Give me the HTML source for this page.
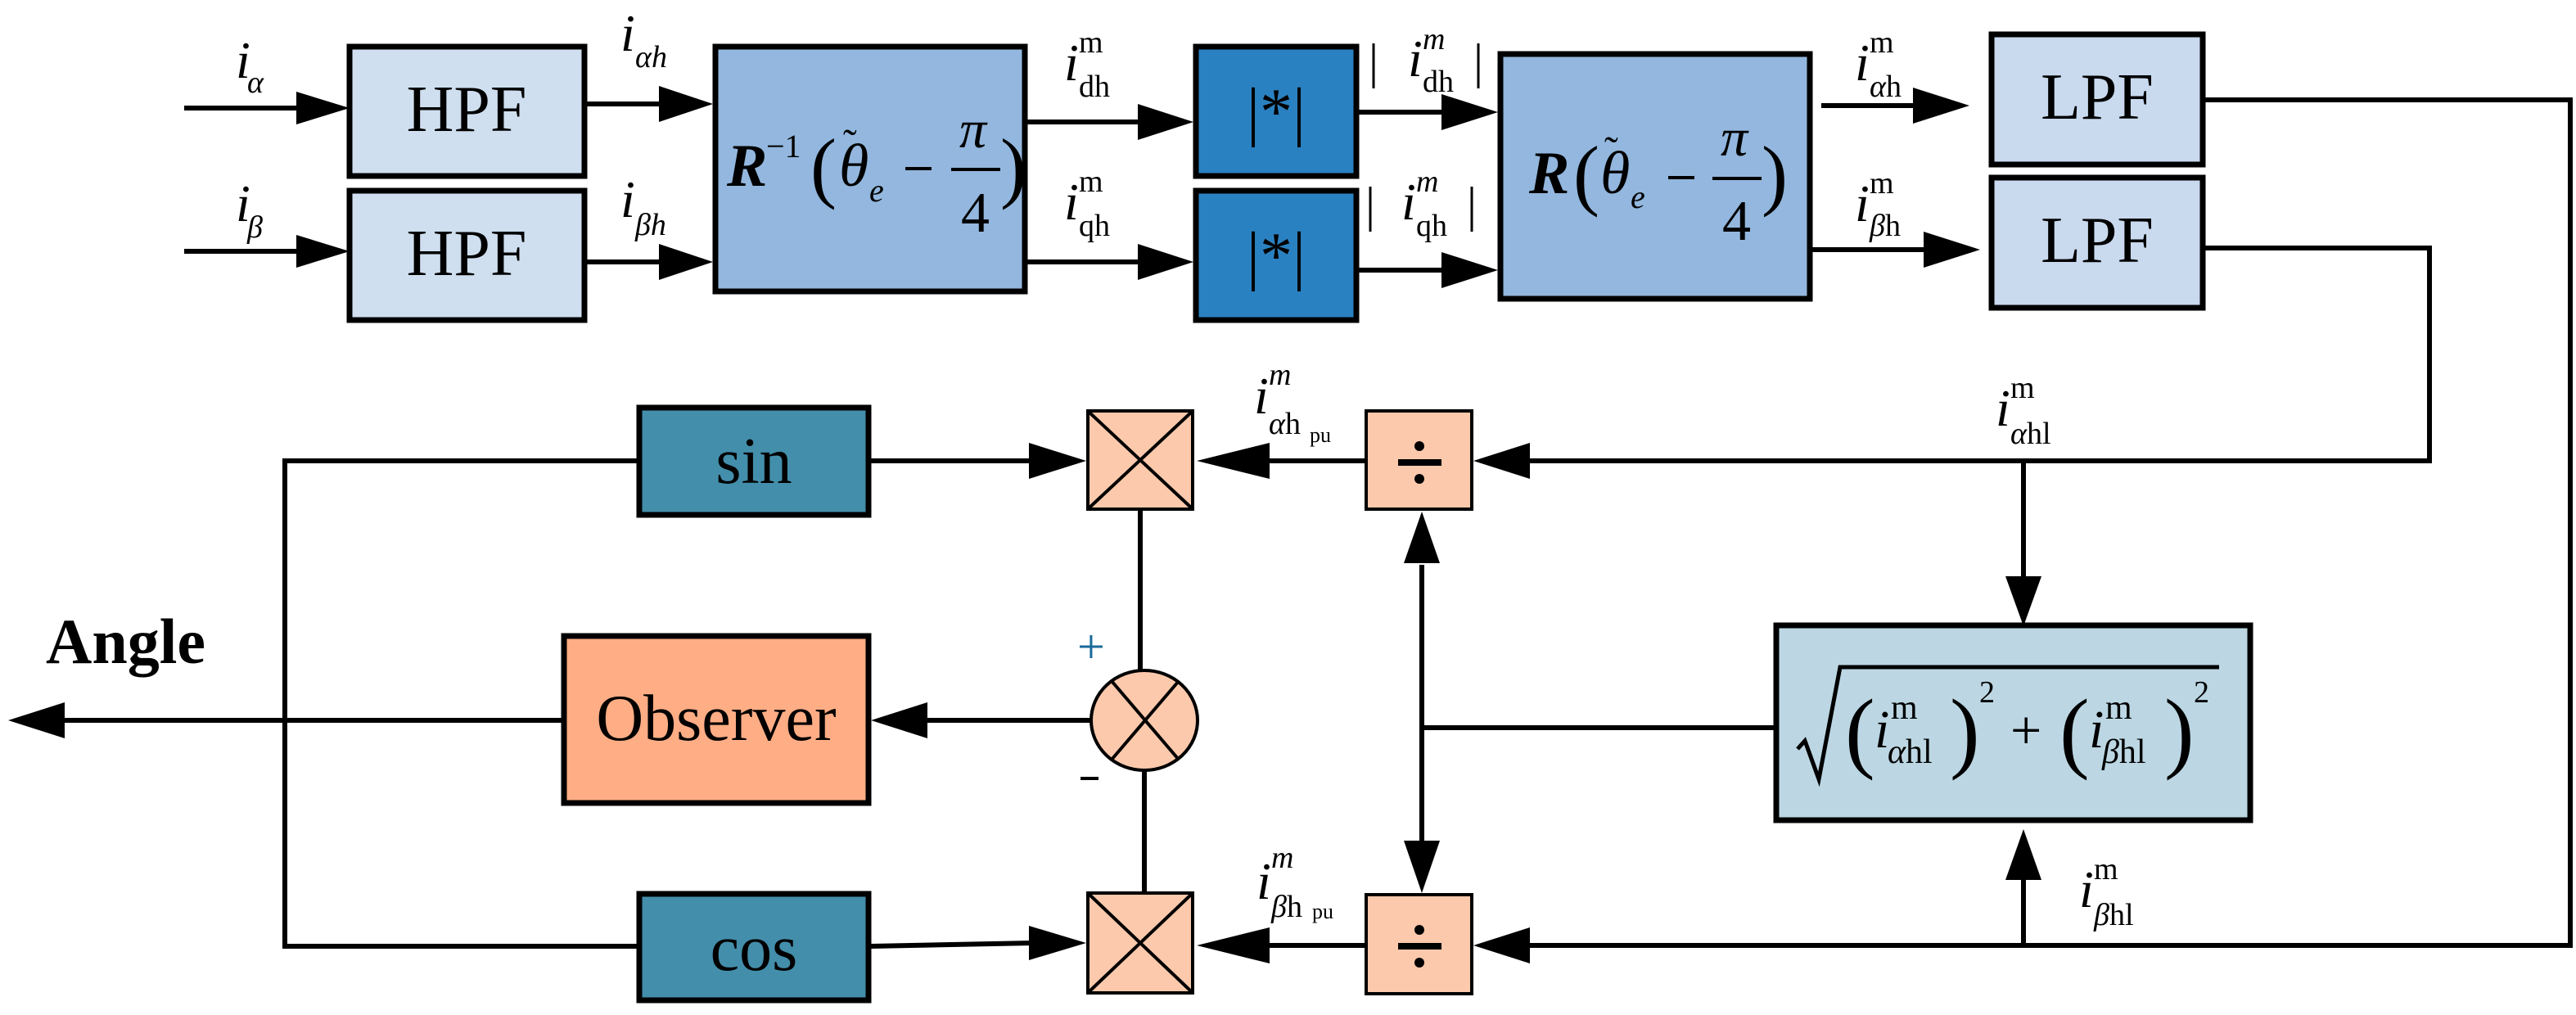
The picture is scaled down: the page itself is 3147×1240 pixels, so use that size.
<!DOCTYPE html>
<html><head><meta charset="utf-8"><style>
html,body{margin:0;padding:0;background:#fff;}
svg{display:block;font-family:"Liberation Serif","DejaVu Serif",serif;}
text{font-family:"Liberation Serif","DejaVu Serif",serif;fill:#000;}
.it{font-style:italic;}
</style></head><body>
<svg width="3147" height="1240" viewBox="0 0 3147 1240" xmlns="http://www.w3.org/2000/svg" font-family="Liberation Serif, serif">
<g stroke="#000" stroke-width="6" fill="none">
<line x1="225" y1="132" x2="370" y2="132"/>
<line x1="225" y1="307" x2="370" y2="307"/>
<line x1="717" y1="127" x2="810" y2="127"/>
<line x1="717" y1="320" x2="810" y2="320"/>
<line x1="1255" y1="149" x2="1395" y2="149"/>
<line x1="1255" y1="320" x2="1395" y2="320"/>
<line x1="1660" y1="137" x2="1765" y2="137"/>
<line x1="1660" y1="330" x2="1765" y2="330"/>
<line x1="2225" y1="129" x2="2340" y2="129"/>
<line x1="2214" y1="305" x2="2350" y2="305"/>
<polyline points="2694,122 3140,122 3140,1155 1860,1155"/>
<polyline points="2694,303 2968,303 2968,563 1860,563"/>
<line x1="1667" y1="563" x2="1545" y2="563"/>
<line x1="1667" y1="1155" x2="1545" y2="1155"/>
<line x1="2472" y1="563" x2="2472" y2="710"/>
<line x1="2472" y1="1155" x2="2472" y2="1070"/>
<line x1="2167" y1="889" x2="1737" y2="889"/>
<line x1="1737" y1="690" x2="1737" y2="1030"/>
<polyline points="778,563 348,563 348,1156 778,1156"/>
<line x1="1064" y1="563" x2="1262" y2="563"/>
<polyline points="1064,1156 1262,1152"/>
<line x1="686" y1="880" x2="75" y2="880"/>
<line x1="1333" y1="880" x2="1128" y2="880"/>
<line x1="1393" y1="623" x2="1393" y2="820"/>
<line x1="1398" y1="940" x2="1398" y2="1089"/>
</g>
<g fill="#000">
<polygon points="362,112 427,132 362,152"/>
<polygon points="362,287 427,307 362,327"/>
<polygon points="805,105 871,127 805,149"/>
<polygon points="805,298 871,320 805,342"/>
<polygon points="1390,127 1458,149 1390,171"/>
<polygon points="1390,298 1458,320 1390,342"/>
<polygon points="1761,115 1830,137 1761,159"/>
<polygon points="1761,308 1830,330 1761,352"/>
<polygon points="2337,107 2406,129 2337,151"/>
<polygon points="2350,283 2419,305 2350,327"/>
<polygon points="1869,541 1800,563 1869,585"/>
<polygon points="1869,1133 1800,1155 1869,1177"/>
<polygon points="1551,541 1462,563 1551,585"/>
<polygon points="1551,1133 1462,1155 1551,1177"/>
<polygon points="2450,704 2472,765 2494,704"/>
<polygon points="2450,1075 2472,1013 2494,1075"/>
<polygon points="1715,688 1737,625 1759,688"/>
<polygon points="1715,1027 1737,1091 1759,1027"/>
<polygon points="1257,541 1327,563 1257,585"/>
<polygon points="1257,1131 1327,1152 1257,1173"/>
<polygon points="79,858 10,880 79,902"/>
<polygon points="1133,858 1064,880 1133,902"/>
</g>
<g stroke="#000" stroke-width="7">
<rect x="427" y="57" width="287" height="158" fill="#cfdfef"/>
<rect x="427" y="233" width="287" height="158" fill="#cfdfef"/>
<rect x="874" y="57" width="378" height="299" fill="#93b7de"/>
<rect x="1461" y="57" width="196" height="158" fill="#2a81c1"/>
<rect x="1461" y="233" width="196" height="158" fill="#2a81c1"/>
<rect x="1833" y="66" width="378" height="299" fill="#93b7de"/>
<rect x="2433" y="42" width="258" height="159" fill="#c9d9ee"/>
<rect x="2433" y="217" width="258" height="159" fill="#c9d9ee"/>
<rect x="781" y="498" width="280" height="131" fill="#438eab"/>
<rect x="781" y="1092" width="280" height="130" fill="#438eab"/>
<rect x="689" y="777" width="372" height="204" fill="#ffad85"/>
<rect x="2170" y="764" width="579" height="238" fill="#bcd7e3"/>
</g>
<g stroke="#000" stroke-width="4" fill="#fcc9ac">
<rect x="1329" y="502" width="128" height="120"/>
<rect x="1329" y="1091" width="128" height="122"/>
<rect x="1669" y="502" width="129" height="120"/>
<rect x="1669" y="1093" width="129" height="121"/>
<ellipse cx="1398" cy="880" rx="65" ry="61"/>
</g>
<g stroke="#000" stroke-width="4">
<line x1="1331" y1="504" x2="1455" y2="620"/><line x1="1455" y1="504" x2="1331" y2="620"/>
<line x1="1331" y1="1093" x2="1455" y2="1211"/><line x1="1455" y1="1093" x2="1331" y2="1211"/>
<line x1="1358" y1="832" x2="1440" y2="928"/><line x1="1440" y1="832" x2="1358" y2="928"/>
</g>
<g fill="#000">
<rect x="1708" y="561" width="53" height="8"/><circle cx="1734" cy="545" r="6"/><circle cx="1734" cy="585" r="6"/>
<rect x="1708" y="1152" width="53" height="8"/><circle cx="1734" cy="1136" r="6"/><circle cx="1734" cy="1176" r="6"/>
</g>
<g font-size="80" text-anchor="middle">
<text x="570" y="160">HPF</text>
<text x="570" y="336">HPF</text>
<text x="2562" y="145">LPF</text>
<text x="2562" y="320">LPF</text>
<text x="921" y="590">sin</text>
<text x="921" y="1185">cos</text>
<text x="875" y="904">Observer</text>
<text x="1559" y="163">|*|</text>
<text x="1559" y="339">|*|</text>
</g>
<text x="56" y="810" font-size="78" font-weight="bold">Angle</text>
<text x="1316" y="810" font-size="60" style="fill:#1a6a9a">+</text>
<rect x="1320" y="949" width="22" height="4" fill="#000"/>
<!-- R^-1 formula -->
<text x="888" y="227" font-size="74" font-weight="bold" class="it">R</text>
<text x="936" y="192" font-size="40">−1</text>
<text x="990" y="236" font-size="96">(</text>
<text x="1025" y="227" font-size="74" class="it">θ</text>
<text x="1030" y="192" font-size="50">˜</text>
<text x="1062" y="246" font-size="40" class="it">e</text>
<rect x="1106" y="204" width="32" height="4"/>
<text x="1172" y="180" font-size="66" class="it">π</text>
<rect x="1162" y="205" width="60" height="4"/>
<text x="1174" y="283" font-size="70">4</text>
<text x="1222" y="236" font-size="96">)</text>
<!-- R formula -->
<text x="1868" y="236" font-size="74" font-weight="bold" class="it">R</text>
<text x="1922" y="245" font-size="96">(</text>
<text x="1955" y="236" font-size="74" class="it">θ</text>
<text x="1960" y="201" font-size="50">˜</text>
<text x="1992" y="254" font-size="40" class="it">e</text>
<rect x="2038" y="215" width="32" height="4"/>
<text x="2102" y="190" font-size="66" class="it">π</text>
<rect x="2092" y="216" width="60" height="4"/>
<text x="2104" y="293" font-size="70">4</text>
<text x="2152" y="245" font-size="96">)</text>
<!-- sqrt formula -->
<polyline points="2196,915 2205,905 2222,952 2248,815 2711,815" fill="none" stroke="#000" stroke-width="5"/>
<text x="2254" y="930" font-size="110">(</text>
<text x="2290" y="913" font-size="66" class="it">i</text>
<text x="2310" y="878" font-size="42">m</text>
<text x="2306" y="932" font-size="42"><tspan class="it">α</tspan>hl</text>
<text x="2382" y="930" font-size="110">)</text>
<text x="2418" y="858" font-size="38">2</text>
<text x="2456" y="915" font-size="68">+</text>
<text x="2516" y="930" font-size="110">(</text>
<text x="2552" y="913" font-size="66" class="it">i</text>
<text x="2572" y="878" font-size="42">m</text>
<text x="2568" y="932" font-size="42"><tspan class="it">β</tspan>hl</text>
<text x="2644" y="930" font-size="110">)</text>
<text x="2680" y="858" font-size="38">2</text>
<g font-size="64">
<text x="288" y="95" class="it">i</text><text x="302" y="113" font-size="38" class="it">α</text>
<text x="288" y="270" class="it">i</text><text x="302" y="290" font-size="38" class="it">β</text>
<text x="758" y="62" class="it">i</text><text x="776" y="82" font-size="38" class="it">αh</text>
<text x="758" y="265" class="it">i</text><text x="776" y="287" font-size="38" class="it">βh</text>
<text x="1300" y="98" class="it">i</text><text x="1318" y="64" font-size="38">m</text><text x="1318" y="118" font-size="38">dh</text>
<text x="1300" y="268" class="it">i</text><text x="1318" y="234" font-size="38">m</text><text x="1318" y="288" font-size="38">qh</text>
<text x="1672" y="95" font-size="60">|</text><text x="1720" y="93" class="it">i</text><text x="1738" y="60" font-size="38" class="it">m</text><text x="1738" y="112" font-size="38">dh</text><text x="1800" y="95" font-size="60">|</text>
<text x="1668" y="270" font-size="60">|</text><text x="1712" y="268" class="it">i</text><text x="1730" y="234" font-size="38" class="it">m</text><text x="1730" y="288" font-size="38">qh</text><text x="1792" y="270" font-size="60">|</text>
<text x="2266" y="98" class="it">i</text><text x="2284" y="64" font-size="38">m</text><text x="2284" y="118" font-size="38"><tspan class="it">α</tspan>h</text>
<text x="2266" y="270" class="it">i</text><text x="2284" y="236" font-size="38">m</text><text x="2284" y="288" font-size="38"><tspan class="it">β</tspan>h</text>
<text x="1532" y="505" class="it">i</text><text x="1550" y="470" font-size="38" class="it">m</text><text x="1550" y="530" font-size="38"><tspan class="it">α</tspan>h</text><text x="1600" y="540" font-size="26">pu</text>
<text x="1535" y="1098" class="it">i</text><text x="1553" y="1060" font-size="38" class="it">m</text><text x="1553" y="1120" font-size="38"><tspan class="it">β</tspan>h</text><text x="1603" y="1122" font-size="26">pu</text>
<text x="2438" y="520" class="it">i</text><text x="2456" y="486" font-size="38">m</text><text x="2456" y="542" font-size="38"><tspan class="it">α</tspan>hl</text>
<text x="2540" y="1108" class="it">i</text><text x="2558" y="1074" font-size="38">m</text><text x="2558" y="1130" font-size="38"><tspan class="it">β</tspan>hl</text>
</g>
</svg>
</body></html>
